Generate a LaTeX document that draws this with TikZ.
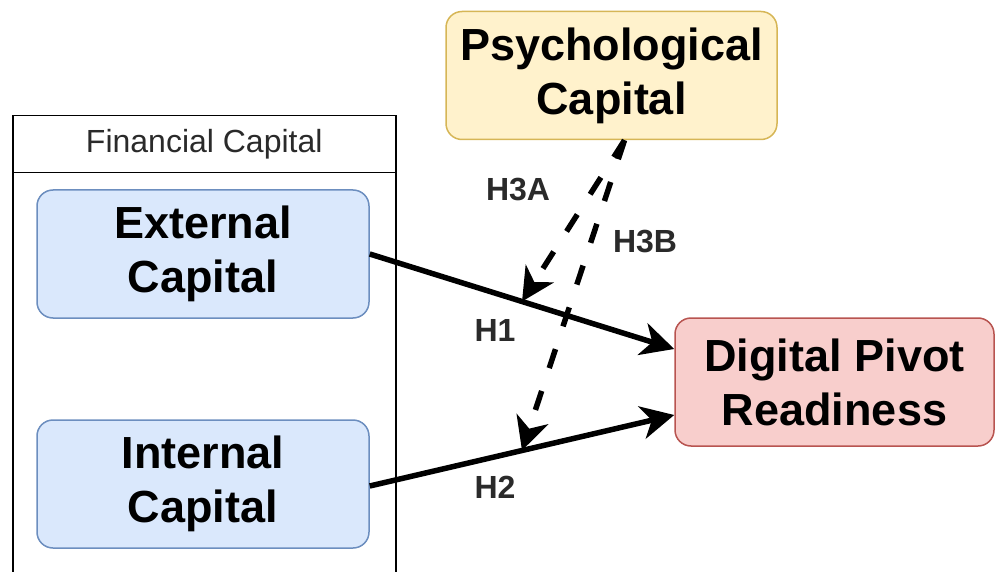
\documentclass[tikz,border=0pt]{standalone}
\usepackage{fontspec}
\setmainfont{Liberation Sans}
\usetikzlibrary{arrows.meta,calc}
\definecolor{bluefill}{HTML}{DAE8FC}
\definecolor{bluedraw}{HTML}{6C8EBF}
\definecolor{yelfill}{HTML}{FFF2CC}
\definecolor{yeldraw}{HTML}{D6B656}
\definecolor{redfill}{HTML}{F8CECC}
\definecolor{reddraw}{HTML}{B85450}
\definecolor{txtgray}{HTML}{2A2A2A}
\begin{document}
\begin{tikzpicture}[x=1pt,y=-1pt,
  box/.style={draw, rounded corners=16pt, line width=1.5pt, minimum height=128pt,
    align=center, font=\fontsize{45}{54}\selectfont\bfseries, inner sep=0pt},
  lab/.style={font=\fontsize{32}{36}\selectfont\bfseries, text=txtgray, inner sep=0pt},
  rel/.style={line width=5.5pt, -{Stealth[length=33pt,width=33pt,inset=10pt]}},
  moder/.style={rel, dash pattern=on 20pt off 24pt},
  frame/.style={draw, line width=1.5pt, inner sep=0pt},
]
\useasboundingbox (0,0) rectangle (995,572);
% container
\node[frame, minimum width=383pt, minimum height=428pt, anchor=north west] (finbody) at (12,172) {};
\node[frame, minimum width=383pt, minimum height=57pt, anchor=north west,
  font=\fontsize{32}{36}\selectfont, text=txtgray] (finhead) at (12,115) {Financial Capital};
% boxes
\node[box, fill=yelfill, draw=yeldraw, minimum width=331pt] (psy) at (611.5,75.5) {Psychological\\Capital};
\node[box, fill=bluefill, draw=bluedraw, minimum width=332pt] (ext) at (203,254) {External\\Capital};
\node[box, fill=bluefill, draw=bluedraw, minimum width=332pt] (int) at (203,484) {Internal\\Capital};
\node[box, fill=redfill, draw=reddraw, minimum width=319pt] (dig) at (834.5,382) {Digital Pivot\\Readiness};
% relations
\draw[rel] (ext.east) -- coordinate[pos=0.5] (m1) ([yshift=33pt]dig.west);
\draw[rel] ([yshift=-2pt]int.east) -- coordinate[pos=0.5] (m2) ([yshift=-33pt]dig.west);
\draw[moder] ([xshift=13pt]psy.south) -- (m1);
\draw[moder] ([xshift=13pt]psy.south) -- (m2);
% labels
\node[lab] (lh3a) at (518,190) {H3A};
\node[lab] (lh3b) at (645,242) {H3B};
\node[lab] (lh1) at (495,330) {H1};
\node[lab] (lh2) at (495,487) {H2};
\end{tikzpicture}
\end{document}
